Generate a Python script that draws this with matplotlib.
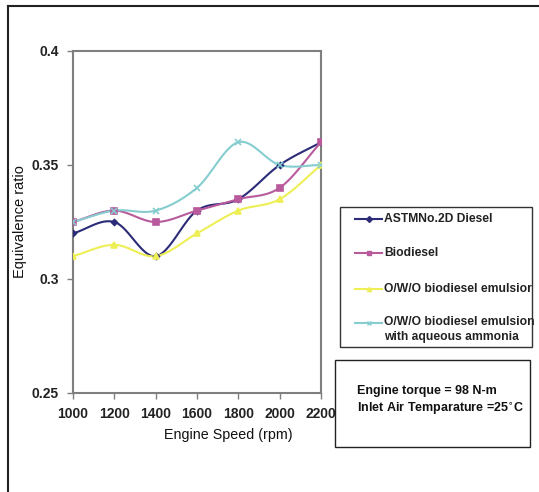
import numpy as np
import matplotlib
matplotlib.use("Agg")
import matplotlib.pyplot as plt
from matplotlib.lines import Line2D
from matplotlib.patches import Rectangle

speed = [1000, 1200, 1400, 1600, 1800, 2000, 2200]
astm = [0.32, 0.325, 0.31, 0.33, 0.335, 0.35, 0.36]
biodiesel = [0.325, 0.33, 0.325, 0.33, 0.335, 0.34, 0.36]
owo = [0.31, 0.315, 0.31, 0.32, 0.33, 0.335, 0.35]
owo_nh3 = [0.325, 0.33, 0.33, 0.34, 0.36, 0.35, 0.35]
legend_labels = ["ASTMNo.2D Diesel", "Biodiesel", "O/W/O biodiesel emulsior",
                 "O/W/O biodiesel emulsion\nwith aqueous ammonia"]

plt.rcParams['font.family'] = ['Liberation Sans', 'DejaVu Sans']

def smooth(x, y, n=20):
    # Catmull-Rom style smoothing for rendering only (like Excel smoothed lines)
    x = np.asarray(x, float); y = np.asarray(y, float)
    px = np.concatenate([[2*x[0]-x[1]], x, [2*x[-1]-x[-2]]])
    py = np.concatenate([[2*y[0]-y[1]], y, [2*y[-1]-y[-2]]])
    xs, ys = [], []
    t = np.linspace(0, 1, n)
    for i in range(1, len(px)-2):
        p0, p1, p2, p3 = [np.array([px[j], py[j]]) for j in (i-1, i, i+1, i+2)]
        for tt in t:
            pt = 0.5*((2*p1) + (-p0+p2)*tt + (2*p0-5*p1+4*p2-p3)*tt**2 + (-p0+3*p1-3*p2+p3)*tt**3)
            xs.append(pt[0]); ys.append(pt[1])
    return np.array(xs), np.array(ys)

fig = plt.figure(figsize=(5.39, 4.92), dpi=100)
W, H = 539, 492
ax = fig.add_axes([73/W, 1-393/H, (321-73)/W, (393-51)/H])

series = [
    (astm, "#2b2b78", "D", 3),
    (biodiesel, "#b85a9c", "s", 4.5),
    (owo, "#eeee55", "^", 4),
    (owo_nh3, "#86cdd0", "x", 4),
]
for vals, c, m, ms in series:
    sx, sy = smooth(speed, vals)
    ax.plot(sx, sy, color=c, lw=1.5, zorder=2)
    ax.plot(speed, vals, ls="none", marker=m, color=c, ms=ms, mew=1.2, zorder=3)

ax.set_xlim(1000, 2200)
ax.set_ylim(0.25, 0.4)
ax.set_xticks(speed)
ax.set_yticks([0.25, 0.3, 0.35, 0.4])
ax.set_yticklabels(["0.25", "0.3", "0.35", "0.4"])
for s in ax.spines.values():
    s.set_color("#7f7f7f")
    s.set_linewidth(1.5)
ax.tick_params(axis="both", colors="#7f7f7f", length=4, width=1,
               labelcolor="#222222", labelsize=10)
for lbl in ax.get_xticklabels() + ax.get_yticklabels():
    lbl.set_fontweight("bold")
ax.tick_params(axis="y", pad=6)
ax.tick_params(axis="x", pad=6)
ax.set_xlabel("Engine Speed (rpm)", fontsize=10.3, color="#111111")
ax.xaxis.set_label_coords(0.625, -0.102)
ax.set_ylabel("Equivalence ratio", fontsize=10.5, color="#111111")
ax.yaxis.set_label_coords(-0.185, 0.5)

def fx(px): return px / W
def fy(py): return 1 - py / H

# legend box (drawn in figure pixel coordinates)
fig.patches.append(Rectangle((fx(340), fy(347)), (532-340)/W, (347-207)/H,
                             transform=fig.transFigure, fill=False,
                             edgecolor="#333333", lw=1.0))
entry_y = [219, 253, 289, 323]
for (vals, c, m, ms), lab, yy in zip(series, legend_labels, entry_y):
    fig.add_artist(Line2D([fx(355), fx(382)], [fy(yy), fy(yy)], transform=fig.transFigure,
                          color=c, lw=1.5))
    fig.add_artist(Line2D([fx(368.5)], [fy(yy)], transform=fig.transFigure, color=c,
                          marker=m, ms=3, mew=1))
    if "\n" in lab:
        fig.text(fx(384), fy(yy - 7), lab, fontsize=8.7, fontweight="bold", va="top",
                 ha="left", color="#222222", linespacing=1.3)
    else:
        fig.text(fx(384), fy(yy), lab, fontsize=8.7, fontweight="bold", va="center",
                 ha="left", color="#222222")

# annotation box
fig.patches.append(Rectangle((fx(335), fy(447)), (530-335)/W, (447-360)/H,
                             transform=fig.transFigure, fill=False,
                             edgecolor="#222222", lw=1.0))
fig.text(fx(357), fy(401), "Engine torque = 98 N-m\nInlet Air Temparature =25$^{\\circ}$C",
         fontsize=9, fontweight="bold", va="center", ha="left", linespacing=1.4,
         color="#111111")

# outer frame (left and top)
fig.add_artist(Line2D([fx(8), fx(8)], [0, fy(6)], transform=fig.transFigure, color="#222222", lw=1.5))
fig.add_artist(Line2D([fx(8), 1], [fy(6), fy(6)], transform=fig.transFigure, color="#222222", lw=1.5))

fig.savefig("out.png", dpi=100)
